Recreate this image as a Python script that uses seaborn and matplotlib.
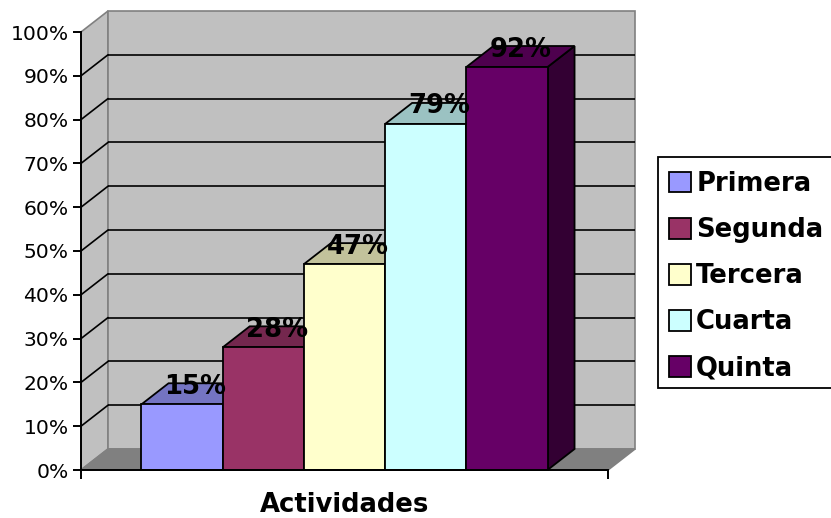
import matplotlib
matplotlib.use("Agg")
import matplotlib.pyplot as plt
from matplotlib.patches import Polygon, Patch, Rectangle
import seaborn as sns

# Data
categories = ["Primera", "Segunda", "Tercera", "Cuarta", "Quinta"]
values = [15, 28, 47, 79, 92]
front_colors = ["#9999FF", "#993366", "#FFFFCC", "#CCFFFF", "#660066"]
yticks = [0, 10, 20, 30, 40, 50, 60, 70, 80, 90, 100]
ytick_labels = [f"{t}%" for t in yticks]
axis_title = "Actividades"

sns.set_style("white")
plt.rcParams["font.family"] = ["DejaVu Sans"]
plt.rcParams["text.color"] = "black"
plt.rcParams["axes.labelcolor"] = "black"
plt.rcParams["xtick.color"] = "black"
plt.rcParams["ytick.color"] = "black"


def shade(hex_color, f):
    r, g, b = matplotlib.colors.to_rgb(hex_color)
    return (r * f, g * f, b * f)


fig = plt.figure(figsize=(8.31, 5.18), dpi=100)
ax = fig.add_axes([81 / 831, 48 / 518, 527 / 831, 438 / 518])

sns.barplot(x=categories, y=values, hue=categories, palette=front_colors,
            saturation=1, width=1.0, dodge=False, edgecolor="black",
            linewidth=1.3, legend=False, ax=ax)
bars = sorted([p for p in ax.patches if isinstance(p, Rectangle) and p.get_height() > 0],
              key=lambda p: p.get_x())

x0, x1 = -1.245, 5.245
ax.set_xlim(x0, x1)
ax.set_ylim(0, 100)

# depth of the 3D box (x units, percent units)
dx, dy = 0.333, 4.8

wall = "#C0C0C0"
floor = "#808080"
edge_gray = "#808080"

# walls and floor
ax.add_patch(Polygon([(x0, 0), (x0 + dx, dy), (x0 + dx, 100 + dy), (x0, 100)],
                     closed=True, facecolor=wall, edgecolor=edge_gray,
                     linewidth=1.2, clip_on=False, zorder=0.5))
ax.add_patch(Polygon([(x0 + dx, dy), (x1 + dx, dy), (x1 + dx, 100 + dy), (x0 + dx, 100 + dy)],
                     closed=True, facecolor=wall, edgecolor=edge_gray,
                     linewidth=1.2, clip_on=False, zorder=0.5))
ax.add_patch(Polygon([(x0, 0), (x1, 0), (x1 + dx, dy), (x0 + dx, dy)],
                     closed=True, facecolor=floor, edgecolor=edge_gray,
                     linewidth=1.2, clip_on=False, zorder=0.6))

# gridlines on the back and side walls
for t in yticks[1:-1]:
    ax.plot([x0 + dx, x1 + dx], [t + dy, t + dy], color="black", lw=1.2,
            clip_on=False, zorder=0.8, solid_capstyle="butt")
    ax.plot([x0, x0 + dx], [t, t + dy], color="black", lw=1.2,
            clip_on=False, zorder=0.8)

# bar tops and sides, layered so each later bar covers the previous one
for i, (p, v, c) in enumerate(zip(bars, values, front_colors)):
    left = p.get_x()
    right = left + p.get_width()
    base_z = 2 + 3 * i
    ax.add_patch(Polygon([(right, 0), (right + dx, dy), (right + dx, v + dy), (right, v)],
                         closed=True, facecolor=shade(c, 0.5), edgecolor="black",
                         linewidth=1.3, clip_on=False, zorder=base_z))
    ax.add_patch(Polygon([(left, v), (right, v), (right + dx, v + dy), (left + dx, v + dy)],
                         closed=True, facecolor=shade(c, 0.76), edgecolor="black",
                         linewidth=1.3, clip_on=False, zorder=base_z + 1))
    p.set_zorder(base_z + 2)
    p.set_clip_on(False)
    ax.text(left + p.get_width() / 2 + dx / 2, v + dy / 2, f"{v}%",
            ha="center", va="baseline", fontsize=18.6, fontweight="bold",
            color="black", zorder=40, clip_on=False)

# axes styling
for s in ["top", "right"]:
    ax.spines[s].set_visible(False)
for s in ["left", "bottom"]:
    ax.spines[s].set_color("black")
    ax.spines[s].set_linewidth(1.4)
    ax.spines[s].set_zorder(30)

ax.set_yticks(yticks)
ax.set_yticklabels(ytick_labels, fontsize=14.6)
ax.set_xticks([x0, x1])
ax.set_xticklabels(["", ""])
ax.tick_params(axis="y", direction="out", length=6, width=1.4, pad=3,
               left=True, colors="black")
ax.tick_params(axis="x", direction="out", length=6.5, width=1.4, bottom=True)
ax.set_ylabel("")
ax.set_xlabel(axis_title, fontsize=18.6, fontweight="bold", color="black")
ax.xaxis.label.set_va("baseline")
ax.xaxis.set_label_coords(0.5, -42 / 438)
ax.set_facecolor("none")
ax.grid(False)

# legend box (runs past the right edge of the figure)
fig.patches.append(Rectangle((658 / 831, (518 - 388) / 518), 200 / 831, 231 / 518,
                             transform=fig.transFigure, facecolor="white",
                             edgecolor="black", linewidth=1.3, zorder=1))

# legend entries
handles = [Patch(facecolor=c, edgecolor="black", linewidth=1.3) for c in front_colors]
leg = fig.legend(handles, categories, loc="upper left",
                 bbox_to_anchor=(660 / 831, 1 - 162 / 518),
                 bbox_transform=fig.transFigure, borderaxespad=0,
                 prop={"size": 18.6, "weight": "bold"},
                 frameon=False,
                 handlelength=0.85, handleheight=0.85, handletextpad=0.2,
                 labelspacing=0.78, borderpad=0.35)
leg.set_zorder(2)
for txt in leg.get_texts():
    txt.set_color("black")

fig.savefig("out.png", dpi=100)
